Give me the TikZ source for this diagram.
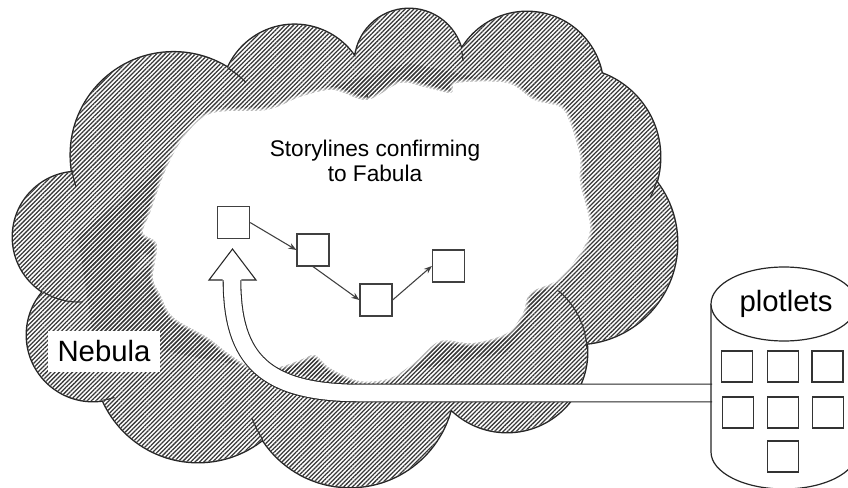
\documentclass[tikz,border=0pt]{standalone}
\usepackage{fontspec}
\setmainfont{Liberation Sans}
\usetikzlibrary{patterns.meta,arrows.meta}
\definecolor{hatch}{HTML}{383838}
\definecolor{boxline}{HTML}{404040}
\begin{document}
\begin{tikzpicture}[x=0.75pt,y=-0.75pt,
  cloudline/.style={draw=black!85, line width=2.2pt},
  hatchfill/.style={pattern={Lines[angle=45,distance=2.3pt,line width=0.95pt]}, pattern color=hatch},
  innerarc/.style={draw=black!80, line width=0.9pt},
  sqbox/.style={draw=boxline, line width=0.9pt, fill=white, minimum size=24pt, inner sep=0pt},
  plotbox/.style={draw=black!80, line width=1.1pt, fill=white, minimum size=23.5pt, inner sep=0pt},
  connector/.style={draw=boxline, line width=0.8pt, -{Stealth[length=6pt,width=4.5pt]}},
  bigfont/.style={font=\fontsize{22}{26}\selectfont},
]
\useasboundingbox (0,0) rectangle (848,488);
\def\circles{
  (78,237) circle[radius=65]
  (173.5,155) circle[radius=102.6]
  (294.5,97.7) circle[radius=72.8]
  (409,63) circle[radius=54]
  (527,88) circle[radius=76]
  (571,157) circle[radius=89]
  (576,243) circle[radius=101]
  (507,352) circle[radius=80]
  (350,383) circle[radius=104]
  (198,358) circle[radius=104]
  (93,335) circle[radius=66]}
\def\core{(78,237) -- (173.5,155) -- (294.5,97.7) -- (409,63) -- (527,88) -- (571,157) -- (576,243) -- (507,352) -- (350,383) -- (198,358) -- (93,335) -- cycle}
% outer cloud
\path[cloudline] \circles;
\fill[white] \circles;
\fill[white] \core;
\path[hatchfill] \circles;
\path[hatchfill] \core;
% inner cusp lines
\draw[innerarc] (173.5,155) ++(-58:102.6) arc[start angle=-58, end angle=-45, radius=102.6];
\draw[innerarc] (173.5,155) ++(171.5:102.6) arc[start angle=171.5, end angle=162, radius=102.6];
\draw[innerarc] (78,237) ++(122.5:65) arc[start angle=122.5, end angle=86, radius=65];
\draw[innerarc] (93,335) ++(81:66) arc[start angle=81, end angle=71, radius=66];
\draw[innerarc] (350,383) ++(147:104) arc[start angle=147, end angle=160, radius=104];
\draw[innerarc] (507,352) ++(-2:80) arc[start angle=-2, end angle=-50, radius=80];
\draw[innerarc] (571,157) ++(15:89) arc[start angle=15, end angle=27, radius=89];
\draw[innerarc] (294.5,97.7) ++(-3:72.8) arc[start angle=-3, end angle=4, radius=72.8];
\draw[innerarc] (409,63) ++(-13:54) arc[start angle=-13, end angle=-2, radius=54];
% inner white fuzzy cloud
\def\inner{plot[smooth cycle, tension=0.55] coordinates {(150,213) (167,167) (187,133) (213,113) (267,110) (300,97) (333,90) (367,100) (400,83) (424,87) (451,93) (457,83) (507,83) (534,100) (560,107) (570,123) (580,157) (580,183) (590,227) (580,253) (557,280) (530,293) (523,313) (507,333) (473,343) (440,341) (415,362) (390,378) (360,381) (330,368) (315,355) (300,360) (278,367) (250,366) (228,353) (207,337) (173,317) (160,294) (153,277) (157,244) (143,233)}}
\draw[white, line width=4.5pt, opacity=0.3] \inner;
\draw[white, line width=2.5pt, opacity=0.45] \inner;
\fill[white] \inner;
% title
\node[font=\fontsize{17}{18.75}\selectfont, align=center, anchor=north, inner sep=0pt] (title) at (375,140) {Storylines confirming\\to Fabula};
% storyline
\node[sqbox] (s1) at (233.5,222.5) {};
\node[sqbox] (s2) at (313,250) {};
\node[sqbox] (s3) at (376,300) {};
\node[sqbox] (s4) at (448.5,266) {};
\draw[connector] (s1.east) -- (s2.west);
\draw[connector] (s2.south) -- (s3.west);
\draw[connector] (s3.east) -- (s4.west);
% Nebula label
\node[bigfont, fill=white, minimum width=84pt, minimum height=30.75pt, inner sep=0pt] (neb) at (104,351.5) {Nebula};
% cylinder body
\path[fill=white] (711,304) -- (711,452) arc[start angle=180, end angle=0, x radius=73, y radius=37] -- (857,304) -- cycle;
% big arrow
\coordinate (head) at (232,280);
\coordinate (cylL) at (712,393);
\draw[line width=14pt, black!85] (cylL) -- (360,393) .. controls (265,393) and (232,360) .. (head);
\draw[line width=12.4pt, white] (713,393) -- (360,393) .. controls (265,393) and (232,360) .. (head);
\filldraw[fill=white, draw=black!85, line width=0.8pt, line join=miter] (222.7,280) -- (209,280) -- (232.5,249) -- (256,280) -- (241.3,280);
% cylinder outline
\draw[black!85, line width=0.9pt] (711,304) -- (711,452) arc[start angle=180, end angle=0, x radius=73, y radius=37] -- (857,304);
\draw[black!85, line width=0.9pt, fill=white] (784,304) ellipse[x radius=73, y radius=37];
\node[bigfont, anchor=base, inner sep=0pt] (plt) at (786,311) {plotlets};
\node[plotbox] (p1) at (737,366.5) {};
\node[plotbox] (p2) at (783,366.5) {};
\node[plotbox] (p3) at (827.5,366.5) {};
\node[plotbox] (p4) at (738,412.5) {};
\node[plotbox] (p5) at (783,412.5) {};
\node[plotbox] (p6) at (828,412.5) {};
\node[plotbox] (p7) at (783,456.5) {};
\end{tikzpicture}
\end{document}
